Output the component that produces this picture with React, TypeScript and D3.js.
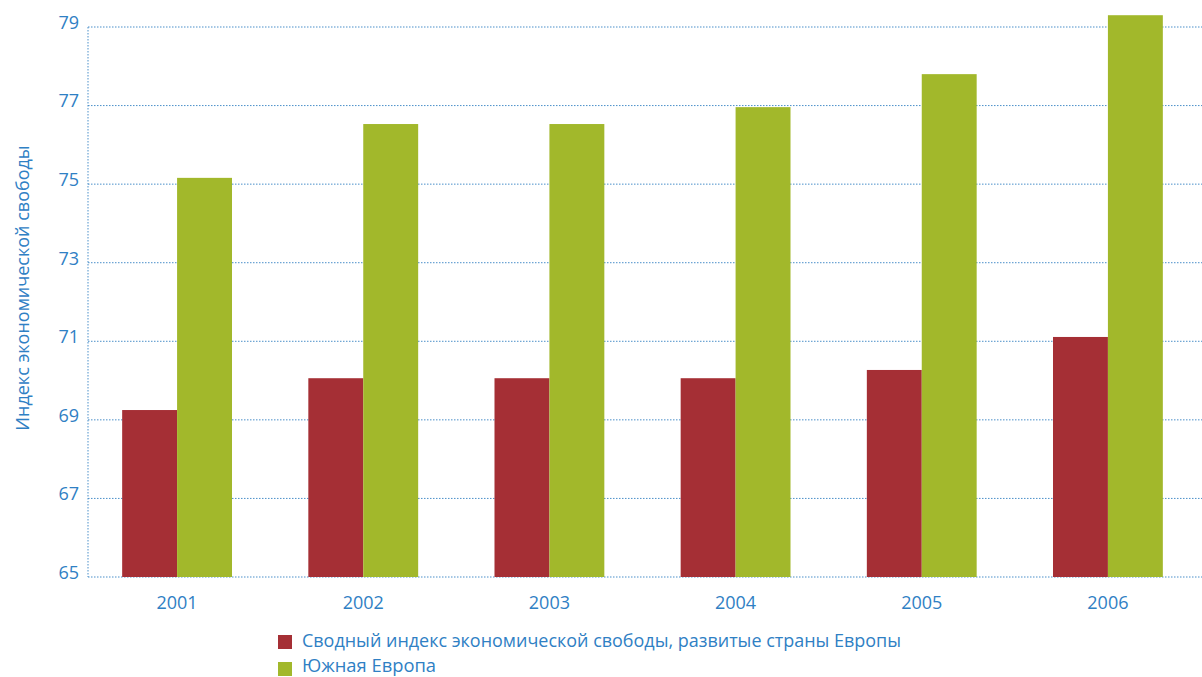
import React from "react";
import * as d3 from "d3";

const years = ["2001", "2002", "2003", "2004", "2005", "2006"];
const developedEurope = [69.25, 70.06, 70.06, 70.06, 70.27, 71.11];
const southernEurope = [75.16, 76.53, 76.53, 76.96, 77.8, 79.3];
const yTicks = [65, 67, 69, 71, 73, 75, 77, 79];
const seriesNames = [
  "Сводный индекс экономической свободы, развитые страны Европы",
  "Южная Европа",
];
const seriesColors = ["#a52f35", "#a2b82b"];

const W = 1202;
const H = 677;
const blue = "#2f80c4";

export default function App() {
  const x = d3.scaleBand<string>().domain(years).range([84, 1201]).paddingInner(0.41).paddingOuter(0.205);
  const inner = d3.scaleBand<string>().domain(["a", "b"]).range([0, x.bandwidth()]);
  const y = d3.scaleLinear().domain([65, 79]).range([577, 27]);
  const series = [developedEurope, southernEurope];
  const keys = ["a", "b"];

  return (
    <svg width={W} height={H} style={{ position: "absolute", left: 0, top: 0 }} fontFamily="'Open Sans', sans-serif">
      <rect width={W} height={H} fill="#fff" />
      {yTicks.map((t) => (
        <g key={t}>
          <line x1={88} x2={W} y1={y(t)} y2={y(t)} stroke="#4a8fc9" strokeWidth={1} strokeDasharray="1.5,1.5" />
          <text x={79} y={y(t)} dy="0.1em" textAnchor="end" fontSize={18} fill={blue}>
            {t}
          </text>
        </g>
      ))}
      <line x1={88} x2={88} y1={27} y2={577} stroke="#4a8fc9" strokeWidth={1} strokeDasharray="1.5,1.5" />
      {years.map((yr, i) => (
        <g key={yr}>
          {series.map((s, j) => (
            <rect
              key={j}
              x={(x(yr) as number) + (inner(keys[j]) as number)}
              y={y(s[i])}
              width={inner.bandwidth()}
              height={y(65) - y(s[i])}
              fill={seriesColors[j]}
            />
          ))}
          <text x={(x(yr) as number) + x.bandwidth() / 2} y={609} textAnchor="middle" fontSize={18} fill={blue}>
            {yr}
          </text>
        </g>
      ))}
      <text transform={`translate(29,288) rotate(-90)`} textAnchor="middle" fontSize={18} fill={blue}>
        Индекс экономической свободы
      </text>
      {seriesNames.map((n, i) => (
        <g key={n}>
          <rect x={278} y={635 + i * 27} width={14} height={14} fill={seriesColors[i]} />
          <text x={302} y={647 + i * 25} fontSize={18} fill={blue} textLength={i === 0 ? 599 : 134} lengthAdjust="spacingAndGlyphs">
            {n}
          </text>
        </g>
      ))}
    </svg>
  );
}
